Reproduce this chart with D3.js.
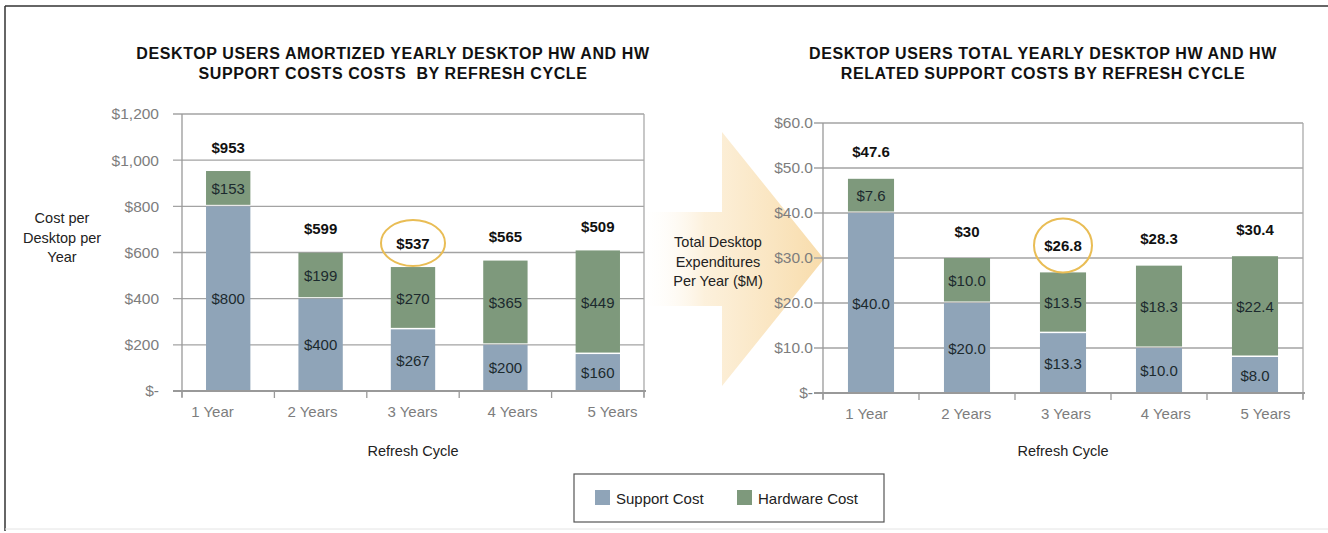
<!DOCTYPE html>
<html><head><meta charset="utf-8">
<script src="https://cdn.jsdelivr.net/npm/d3@7"></script>
<style>
html,body{margin:0;padding:0;background:#fff;}
svg{display:block;font-family:"Liberation Sans",Arial,Helvetica,sans-serif;}
</style></head>
<body>
<svg id="chart" width="1328" height="533"></svg>
<script>
const categories = ["1 Year","2 Years","3 Years","4 Years","5 Years"];
// Left chart: cost per desktop per year ($)
const leftSupport  = [800, 400, 267, 200, 160];
const leftHardware = [153, 199, 270, 365, 449];
const leftTotals   = ["$953","$599","$537","$565","$509"];
const leftTicks    = [0,200,400,600,800,1000,1200];
const leftTickLabels = ["$-","$200","$400","$600","$800","$1,000","$1,200"];
// Right chart: total desktop expenditures per year ($M)
const rightSupport  = [40.0, 20.0, 13.3, 10.0, 8.0];
const rightHardware = [7.6, 10.0, 13.5, 18.3, 22.4];
const rightTotals   = ["$47.6","$30","$26.8","$28.3","$30.4"];
const rightTicks    = [0,10,20,30,40,50,60];
const rightTickLabels = ["$-","$10.0","$20.0","$30.0","$40.0","$50.0","$60.0"];
const seriesNames = ["Support Cost","Hardware Cost"];
const highlightIndex = 2;

const colors = {support:"#8fa4b8", hardware:"#7e997c"};
const svg = d3.select("#chart");

// outer frame
svg.append("line").attr("x1",5).attr("x2",1328).attr("y1",6).attr("y2",6).attr("stroke","#333").attr("stroke-width",1.5);
svg.append("line").attr("x1",5).attr("x2",5).attr("y1",6).attr("y2",531).attr("stroke","#333").attr("stroke-width",1.5);
svg.append("line").attr("x1",5).attr("x2",1328).attr("y1",529).attr("y2",529).attr("stroke","#e4e4e4").attr("stroke-width",1);

// arrow
const defs = svg.append("defs");
const grad = defs.append("linearGradient").attr("id","arrowGrad").attr("x1","0").attr("x2","1").attr("y1","0").attr("y2","0");
grad.append("stop").attr("offset","0").attr("stop-color","#ffffff").attr("stop-opacity",0);
grad.append("stop").attr("offset","0.35").attr("stop-color","#fcefd8").attr("stop-opacity",0.9);
grad.append("stop").attr("offset","1").attr("stop-color","#f8dcab");
svg.append("path")
  .attr("d","M640,212 L722,212 L722,132 L824,259 L722,386 L722,306 L640,306 Z")
  .attr("fill","url(#arrowGrad)");

function drawChart(cfg){
  const g = svg.append("g");
  const x = d3.scaleBand().domain(categories).range([cfg.x0,cfg.x1]).paddingInner(0.52).paddingOuter(0.26);
  const xb = d3.scaleBand().domain(categories).range([cfg.x0,cfg.x1]);
  const xl = d3.scalePoint().domain(categories).range(cfg.labelRange);
  const y = d3.scaleLinear().domain([0,cfg.max]).range([cfg.y0,cfg.y1]);

  // gridlines
  g.selectAll(".grid").data(cfg.ticks.slice(1)).join("line")
    .attr("x1",cfg.x0-9).attr("x2",cfg.x1).attr("y1",d=>y(d)).attr("y2",d=>y(d))
    .attr("stroke","#a3a3a3").attr("stroke-width",1.3);
  // frame sides
  g.append("line").attr("x1",cfg.x0).attr("x2",cfg.x0).attr("y1",cfg.y1).attr("y2",cfg.y0+6).attr("stroke","#999").attr("stroke-width",1.3);
  g.append("line").attr("x1",cfg.x1).attr("x2",cfg.x1).attr("y1",cfg.y1).attr("y2",cfg.y0+6).attr("stroke","#aaa").attr("stroke-width",1.3);

  // y axis labels via d3 axis
  const yAxis = d3.axisLeft(y).tickValues(cfg.ticks).tickFormat((d,i)=>cfg.tickLabels[i]).tickSize(0).tickPadding(cfg.x0 - cfg.labelRight);
  const ya = g.append("g").attr("transform",`translate(${cfg.x0},0)`).call(yAxis);
  ya.select(".domain").remove();
  ya.selectAll("text").attr("fill","#7d7d7d").style("font-size","15.5px").style("font-family","'Liberation Sans',Arial,sans-serif");

  // bars
  const data = categories.map((c,i)=>({c, s:cfg.support[i], h:cfg.hardware[i], t:cfg.totals[i]}));
  g.selectAll(".bs").data(data).join("rect")
    .attr("x",d=>x(d.c)).attr("width",x.bandwidth())
    .attr("y",d=>y(d.s)).attr("height",d=>y(0)-y(d.s))
    .attr("fill",colors.support);
  g.selectAll(".bh").data(data).join("rect")
    .attr("x",d=>x(d.c)).attr("width",x.bandwidth())
    .attr("y",d=>y(d.s+d.h)).attr("height",d=>y(d.s)-y(d.s+d.h)-1.5)
    .attr("fill",colors.hardware);

  // x axis (category labels)
  const xAxis = d3.axisBottom(xl).tickSize(0).tickPadding(15);
  const xa = g.append("g").attr("transform",`translate(0,${cfg.y0})`).call(xAxis);
  xa.select(".domain").remove();
  xa.selectAll("text").attr("fill","#7d7d7d").style("font-size","15px").style("font-family","'Liberation Sans',Arial,sans-serif");
  g.append("line").attr("x1",cfg.x0-9).attr("x2",cfg.x1+2).attr("y1",cfg.y0).attr("y2",cfg.y0).attr("stroke","#999").attr("stroke-width",2);
  const bounds = categories.map(c=>xb(c)).concat([cfg.x1]);
  g.selectAll(".xt").data(bounds).join("line")
    .attr("x1",d=>d).attr("x2",d=>d).attr("y1",cfg.y0).attr("y2",cfg.y0+7)
    .attr("stroke","#999").attr("stroke-width",1.3);

  // segment labels
  const fmt = cfg.fmt;
  g.selectAll(".ls").data(data).join("text")
    .attr("x",d=>x(d.c)+x.bandwidth()/2).attr("y",d=>(y(0)+y(d.s))/2)
    .attr("text-anchor","middle").attr("dominant-baseline","central")
    .attr("fill","#1c2a2e").style("font-size","15px").text(d=>fmt(d.s));
  g.selectAll(".lh").data(data).join("text")
    .attr("x",d=>x(d.c)+x.bandwidth()/2).attr("y",d=>(y(d.s)+y(d.s+d.h))/2)
    .attr("text-anchor","middle").attr("dominant-baseline","central")
    .attr("fill","#1c2a2e").style("font-size","15px").text(d=>fmt(d.h));
  // totals
  g.selectAll(".lt").data(data).join("text")
    .attr("x",d=>x(d.c)+x.bandwidth()/2).attr("y",d=>y(d.s+d.h)-cfg.totOff)
    .attr("text-anchor","middle").attr("dominant-baseline","central")
    .attr("fill","#111").style("font-size","15px").style("font-weight","bold").text(d=>d.t);

  // highlight ellipse
  const hd = data[highlightIndex];
  g.append("ellipse")
    .attr("cx",x(hd.c)+x.bandwidth()/2).attr("cy",y(hd.s+hd.h)-cfg.totOff)
    .attr("rx",cfg.erx).attr("ry",cfg.ery)
    .attr("fill","none").attr("stroke","#e9bd55").attr("stroke-width",2);

  // titles
  cfg.title.forEach((t,i)=>{
    g.append("text").attr("x",cfg.titleX).attr("y",53+i*20).attr("text-anchor","middle").attr("dominant-baseline","central")
      .attr("fill","#111").style("font-size","16px").style("letter-spacing","0.6px").style("white-space","pre").style("font-weight","bold").text(t);
  });
  // y title
  cfg.yTitle.forEach((t,i)=>{
    g.append("text").attr("x",cfg.yTitleX).attr("y",cfg.yTitleY+i*19.5).attr("text-anchor","middle").attr("dominant-baseline","central")
      .attr("fill","#222").style("font-size","14.5px").text(t);
  });
  g.append("text").attr("x",(cfg.x0+cfg.x1)/2).attr("y",451).attr("text-anchor","middle").attr("dominant-baseline","central")
    .attr("fill","#222").style("font-size","14.5px").text("Refresh Cycle");
}

drawChart({x0:182,x1:644,y0:391,y1:114,max:1200,ticks:leftTicks,tickLabels:leftTickLabels,labelRight:159,labelRange:[212,612],
  support:leftSupport,hardware:leftHardware,totals:leftTotals,fmt:d=>"$"+d3.format(".0f")(d),totOff:24,
  erx:32,ery:23,title:["DESKTOP USERS AMORTIZED YEARLY DESKTOP HW AND HW","SUPPORT COSTS COSTS  BY REFRESH CYCLE"],titleX:393,
  yTitle:["Cost per","Desktop per","Year"],yTitleX:62,yTitleY:218});
drawChart({x0:823,x1:1303,y0:393,y1:123,max:60,ticks:rightTicks,tickLabels:rightTickLabels,labelRight:813,labelRange:[866,1265],
  support:rightSupport,hardware:rightHardware,totals:rightTotals,fmt:d=>"$"+d3.format(".1f")(d),totOff:27,
  erx:29,ery:27,title:["DESKTOP USERS TOTAL YEARLY DESKTOP HW AND HW","RELATED SUPPORT COSTS BY REFRESH CYCLE"],titleX:1043,
  yTitle:["Total Desktop","Expenditures","Per Year ($M)"],yTitleX:718,yTitleY:242});

// legend
const lg = svg.append("g");
lg.append("rect").attr("x",574).attr("y",474).attr("width",310).attr("height",48).attr("fill","#fff").attr("stroke","#555").attr("stroke-width",1.2);
const litems = [{n:seriesNames[0],c:colors.support,x:595},{n:seriesNames[1],c:colors.hardware,x:737}];
lg.selectAll(".li").data(litems).join("rect").attr("x",d=>d.x).attr("y",490).attr("width",15).attr("height",15).attr("fill",d=>d.c);
lg.selectAll(".lt").data(litems).join("text").attr("x",d=>d.x+21).attr("y",498).attr("dominant-baseline","central")
  .attr("fill","#222").style("font-size","15px").text(d=>d.n);
</script>
</body></html>
